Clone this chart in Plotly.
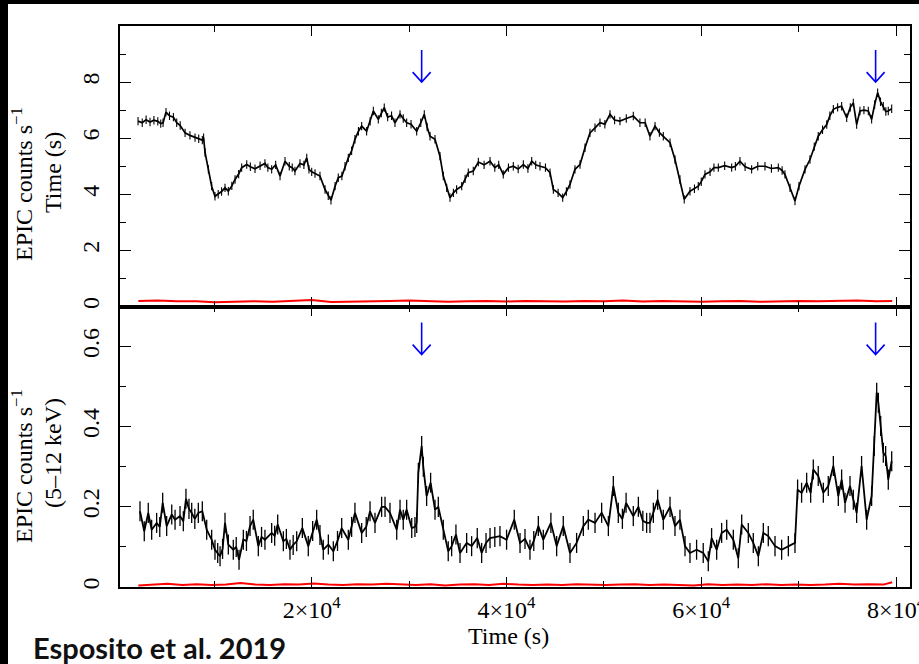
import plotly.graph_objects as go

# ---------------- data ----------------
t_top = [2170, 2600, 3000, 3400, 3800, 4200, 4500, 4740, 5040, 5400, 5800, 6140, 6500, 7000, 7500, 8020,
         8400, 8770, 8900, 9050, 9390, 9730, 10070, 10400, 10750, 11100, 11440, 11800, 12130, 12500, 12810,
         13330, 13700, 14180, 14700, 15200, 15500, 15890, 16300, 16750, 17260, 17700, 18000, 18280, 18800,
         19200, 19490, 19720, 20000, 20340, 20850, 21370, 21700, 21980, 22400, 22730, 23100, 23420, 23760,
         24100, 24440, 24800, 25130, 25640, 26000, 26330, 26840, 27150, 27450, 27800, 28200, 28550, 29070,
         29400, 29750, 30200, 30780, 31200, 31560, 31850, 32150, 32660, 33170, 33510, 33860, 34200, 34550,
         34880, 35400, 35750, 36080, 36590, 37110, 37700, 38310, 38800, 39200, 39670, 40200, 40700, 41200,
         41730, 42200, 42590, 43000, 43440, 44000, 44470, 44810, 45300, 45770, 46150, 46520, 47030, 47550,
         48060, 48570, 49090, 49600, 50100, 50630, 51100, 51650, 52300, 53020, 53700, 54240, 54730, 55250,
         55700, 56100, 56790, 57300, 57810, 58250, 58840, 59300, 59690, 60000, 60380, 60900, 61300, 61750,
         62400, 63120, 63500, 63970, 64500, 65170, 65800, 66540, 67200, 67910, 68300, 68590, 69110, 69620,
         70030, 70650, 71160, 71600, 72010, 72450, 72880, 73200, 73560, 74000, 74410, 74930, 75300, 75610,
         75950, 76290, 76700, 77150, 77490, 77800, 78110, 78400, 78690, 78950, 79200, 79550]
rate_top = [6.61, 6.55, 6.66, 6.58, 6.64, 6.60, 6.52, 6.55, 6.93, 6.80, 6.75, 6.55, 6.45, 6.19, 6.10, 6.02,
            5.98, 5.93, 6.02, 5.49, 4.89, 4.29, 3.93, 4.00, 4.10, 4.23, 4.11, 4.30, 4.53, 4.72, 4.95,
            5.06, 4.98, 4.91, 5.02, 5.10, 4.95, 4.89, 5.05, 4.65, 5.18, 5.00, 4.95, 4.83, 5.10,
            5.05, 5.30, 4.89, 4.80, 4.74, 4.65, 4.17, 3.95, 3.79, 4.29, 4.59, 4.65, 5.00, 5.30,
            5.55, 5.96, 6.25, 6.43, 6.25, 6.60, 6.97, 6.67, 6.90, 7.09, 6.75, 6.80, 6.55, 6.85,
            6.70, 6.55, 6.50, 6.25, 6.55, 6.85, 6.40, 6.07, 5.96, 5.36, 4.65, 4.23, 3.88, 4.05,
            4.17, 4.29, 4.55, 4.77, 4.83, 5.15, 5.05, 5.18, 4.95, 5.05, 4.71, 4.95, 5.00, 4.90,
            5.06, 4.92, 5.18, 5.05, 5.00, 4.95, 4.77, 4.17, 4.05, 3.88, 4.10, 4.35, 4.89, 5.06,
            5.66, 6.19, 6.37, 6.55, 6.50, 6.85, 6.65, 6.61, 6.70, 6.79, 6.55, 6.55, 6.07, 6.43,
            6.20, 6.07, 5.84, 5.24, 4.53, 3.82, 4.11, 4.20, 4.29, 4.45, 4.71, 4.80, 4.95, 4.95,
            5.02, 4.95, 5.00, 5.18, 4.98, 4.89, 5.00, 5.00, 4.92, 4.95, 4.85, 4.71, 4.23, 3.76,
            4.29, 4.89, 5.24, 5.70, 6.07, 6.30, 6.49, 6.80, 7.03, 7.10, 7.14, 6.73, 7.10, 7.26,
            6.49, 6.97, 7.00, 6.97, 6.67, 7.20, 7.62, 7.30, 7.14, 6.95, 6.97, 7.05]
err_top = 0.15

t_bkg_top = [2200, 4200, 6200, 8200, 10000, 12000, 14000, 16000, 18000, 20000, 22000, 24000, 26000,
             28000, 30000, 32000, 34000, 36000, 38000, 40000, 42000, 44000, 46000, 48000, 50000, 52000,
             54000, 56000, 58000, 60000, 62000, 64000, 66000, 68000, 70000, 72000, 74000, 76000, 78000, 79600]
rate_bkg_top = [0.20, 0.21, 0.19, 0.19, 0.15, 0.18, 0.19, 0.17, 0.19, 0.23, 0.16, 0.18, 0.19,
                0.20, 0.21, 0.19, 0.17, 0.19, 0.20, 0.18, 0.20, 0.19, 0.18, 0.20, 0.19, 0.21,
                0.18, 0.20, 0.18, 0.17, 0.19, 0.20, 0.17, 0.19, 0.20, 0.19, 0.20, 0.21, 0.19, 0.20]

t_bot = [2370, 2810, 3220, 3570, 4080, 4400, 4700, 5110, 5630, 5970, 6480, 6820, 7090, 7400, 7680, 8000,
         8360, 8770, 9220, 9730, 10070, 10350, 10590, 10850, 11100, 11440, 11950, 12250, 12540, 12980,
         13300, 13670, 14000, 14520, 14850, 15200, 15890, 16200, 16510, 17090, 17400, 17770, 18100, 18460,
         19040, 19650, 20100, 20510, 20850, 21190, 21710, 22220, 22650, 23080, 23760, 24100, 24440, 25130,
         25600, 25990, 26500, 27180, 27530, 28040, 28730, 29070, 29400, 29750, 30270, 30600, 30780, 30950,
         31290, 31460, 31800, 32210, 32660, 33000, 33510, 34020, 34370, 34810, 35230, 35910, 36420, 37000,
         37450, 37900, 38310, 38800, 39330, 40010, 40800, 41390, 41900, 42410, 42800, 43270, 43780, 44560,
         45150, 45830, 46520, 47200, 47890, 48400, 49090, 49770, 50460, 50970, 51480, 51900, 52280, 53020,
         53540, 54000, 54390, 54730, 55080, 55520, 56100, 56790, 57300, 57810, 58330, 58840, 59520, 60200,
         60720, 61060, 61580, 62090, 62610, 63290, 63800, 64150, 64830, 65340, 65860, 66370, 66880, 67570,
         68250, 68940, 69620, 69890, 70300, 70820, 71230, 71500, 72010, 72530, 73040, 73560, 74070, 74410,
         74760, 75270, 75610, 75950, 76460, 76980, 77490, 77760, 78010, 78180, 78420, 78690, 78930, 79200, 79550]
rate_bot = [0.189, 0.139, 0.185, 0.143, 0.160, 0.150, 0.210, 0.152, 0.181, 0.168, 0.177, 0.164, 0.220, 0.195,
            0.185, 0.170, 0.185, 0.189, 0.143, 0.118, 0.093, 0.085, 0.077, 0.095, 0.160, 0.106, 0.093, 0.100,
            0.068, 0.118, 0.115, 0.152, 0.168, 0.102, 0.125, 0.118, 0.135, 0.128, 0.156, 0.114, 0.120, 0.093,
            0.105, 0.114, 0.147, 0.102, 0.140, 0.168, 0.130, 0.093, 0.106, 0.089, 0.115, 0.147, 0.118, 0.150,
            0.185, 0.135, 0.150, 0.189, 0.160, 0.200, 0.200, 0.185, 0.143, 0.193, 0.168, 0.193, 0.147, 0.150,
            0.160, 0.285, 0.352, 0.300, 0.227, 0.260, 0.193, 0.200, 0.143, 0.089, 0.102, 0.131, 0.085, 0.110,
            0.102, 0.122, 0.085, 0.110, 0.122, 0.125, 0.127, 0.118, 0.168, 0.110, 0.120, 0.093, 0.115, 0.152,
            0.118, 0.160, 0.102, 0.152, 0.085, 0.110, 0.152, 0.168, 0.160, 0.185, 0.152, 0.252, 0.185, 0.170,
            0.210, 0.177, 0.200, 0.165, 0.160, 0.160, 0.185, 0.218, 0.168, 0.200, 0.152, 0.168, 0.102, 0.085,
            0.093, 0.085, 0.064, 0.122, 0.093, 0.135, 0.143, 0.118, 0.072, 0.156, 0.135, 0.110, 0.077, 0.135,
            0.127, 0.102, 0.093, 0.102, 0.110, 0.243, 0.235, 0.260, 0.235, 0.293, 0.277, 0.235, 0.252, 0.302,
            0.227, 0.268, 0.210, 0.252, 0.218, 0.185, 0.302, 0.168, 0.227, 0.352, 0.485, 0.460, 0.402, 0.335,
            0.327, 0.268, 0.314]
err_bot = 0.025

t_bkg_bot = [2200, 3700, 5200, 6700, 8200, 9700, 11200, 12700, 14200, 15700, 17200, 18700, 20200, 21700,
             23200, 24700, 26200, 27700, 29200, 30700, 32200, 33700, 35200, 36700, 38200, 39700, 41200,
             42700, 44200, 45700, 47200, 48700, 50200, 51700, 53200, 54700, 56200, 57700, 59200, 60700,
             62200, 63700, 65200, 66700, 68200, 69700, 71200, 72700, 74200, 75700, 77200, 78700, 79600]
rate_bkg_bot = [0.004, 0.006, 0.008, 0.005, 0.007, 0.005, 0.006, 0.010, 0.006, 0.005, 0.007, 0.006, 0.009, 0.006,
                0.005, 0.007, 0.006, 0.008, 0.006, 0.005, 0.007, 0.004, 0.006, 0.007, 0.005, 0.008, 0.006,
                0.005, 0.006, 0.005, 0.007, 0.006, 0.005, 0.006, 0.007, 0.005, 0.006, 0.005, 0.004, 0.007,
                0.005, 0.006, 0.005, 0.007, 0.005, 0.006, 0.005, 0.006, 0.008, 0.006, 0.007, 0.006, 0.012]

arrow_times = [31290, 77900]
arrow_tip_top = 8.0
arrow_tip_bot = 0.58

x_tickvals = [20000, 40000, 60000, 80000]
x_ticktext = ["2×10<sup>4</sup>", "4×10<sup>4</sup>", "6×10<sup>4</sup>", "8×10<sup>4</sup>"]

# ---------------- layout geometry ----------------
W, H = 919, 664
ML, MR, MT, MB = 120, 9, 26, 77
PW, PH = W - ML - MR, H - MT - MB


def px(xp):
    return (xp - ML) / PW


def py(yp):
    return (H - MB - yp) / PH


SERIF = "Liberation Serif, Times New Roman, serif"
fig = go.Figure()

fig.add_trace(go.Scatter(x=t_top, y=rate_top, mode="lines", xaxis="x2", yaxis="y2",
                         line=dict(color="black", width=1.7),
                         error_y=dict(type="constant", value=err_top, color="black", thickness=1.1, width=0),
                         showlegend=False))
fig.add_trace(go.Scatter(x=t_bkg_top, y=rate_bkg_top, mode="lines", xaxis="x2", yaxis="y2",
                         line=dict(color="#ff0000", width=2), showlegend=False))
fig.add_trace(go.Scatter(x=t_bot, y=rate_bot, mode="lines", xaxis="x", yaxis="y",
                         line=dict(color="black", width=1.8),
                         error_y=dict(type="constant", value=err_bot, color="black", thickness=1.3, width=0),
                         showlegend=False))
fig.add_trace(go.Scatter(x=t_bkg_bot, y=rate_bkg_bot, mode="lines", xaxis="x", yaxis="y",
                         line=dict(color="#ff0000", width=2), showlegend=False))

xr = [318, 81430]
axis_common = dict(showline=True, linecolor="black", linewidth=1.6, mirror="ticks", ticks="inside",
                   tickcolor="black", tickwidth=1.4, showgrid=False, zeroline=False, automargin=False,
                   tickfont=dict(family=SERIF, size=24, color="black"))

fig.update_layout(
    width=W, height=H,
    margin=dict(l=ML, r=MR, t=MT, b=MB, autoexpand=False),
    paper_bgcolor="white", plot_bgcolor="white",
    xaxis=dict(domain=[0, 1], anchor="y", range=xr, tickmode="array", tickvals=x_tickvals,
               ticktext=x_ticktext, ticklen=10, ticklabeloverflow="allow",
               minor=dict(tickmode="linear", tick0=0, dtick=10000, ticklen=6, ticks="inside",
                          tickcolor="black", tickwidth=1.4),
               ticklabelstandoff=0, **axis_common),
    xaxis2=dict(domain=[0, 1], anchor="y2", range=xr, matches="x", tickmode="array", tickvals=x_tickvals,
                showticklabels=False, ticklen=10,
                minor=dict(tickmode="linear", tick0=0, dtick=10000, ticklen=6, ticks="inside",
                           tickcolor="black", tickwidth=1.4),
                **axis_common),
    yaxis=dict(domain=[0, 0.5], anchor="x", range=[0, 0.7], tickmode="array",
               tickvals=[0, 0.2, 0.4, 0.6], ticktext=["0", "0.2", "0.4", "0.6"], ticklen=11, tickangle=-90,
               minor=dict(tickmode="array", tickvals=[0.1, 0.3, 0.5], ticklen=6, ticks="inside",
                          tickcolor="black", tickwidth=1.4),
               ticklabelstandoff=10, **axis_common),
    yaxis2=dict(domain=[0.5, 1], anchor="x2", range=[0, 10], tickmode="array",
                tickvals=[0, 2, 4, 6, 8], ticklen=11, tickangle=-90,
                minor=dict(tickmode="array", tickvals=[1, 3, 5, 7, 9], ticklen=6, ticks="inside",
                           tickcolor="black", tickwidth=1.4),
                ticklabelstandoff=10, **axis_common),
)

# blue arrows drawn as pixel-sized paths anchored at the data positions
arrow_path = "M0,0 L0,32 M-9,10 L0,0 L9,10"
shapes = []
for t in arrow_times:
    for xa, ya, tip in (("x2", "y2", arrow_tip_top), ("x", "y", arrow_tip_bot)):
        shapes.append(dict(type="path", xref=xa, yref=ya, xsizemode="pixel", ysizemode="pixel",
                           xanchor=t, yanchor=tip, path=arrow_path,
                           line=dict(color="#0000ff", width=1.6), layer="above"))

shapes += [
    dict(type="rect", xref="paper", yref="paper", x0=px(-2), x1=px(8), y0=py(H + 2), y1=py(-2),
         fillcolor="black", line=dict(width=0), layer="above"),
    dict(type="rect", xref="paper", yref="paper", x0=px(-2), x1=px(W + 2), y0=py(4), y1=py(-2),
         fillcolor="black", line=dict(width=0), layer="above"),
]

title_font = dict(family=SERIF, size=24, color="black")
ann = [
    dict(text="EPIC counts s<sup>−1</sup>", x=px(22), y=py(184), xref="paper", yref="paper",
         textangle=-90, showarrow=False, xanchor="center", yanchor="middle", font=title_font),
    dict(text="Time (s)", x=px(53), y=py(173), xref="paper", yref="paper",
         textangle=-90, showarrow=False, xanchor="center", yanchor="middle", font=title_font),
    dict(text="EPIC counts s<sup>−1</sup>", x=px(22), y=py(466), xref="paper", yref="paper",
         textangle=-90, showarrow=False, xanchor="center", yanchor="middle", font=title_font),
    dict(text="(5–12 keV)", x=px(53), y=py(453), xref="paper", yref="paper",
         textangle=-90, showarrow=False, xanchor="center", yanchor="middle", font=title_font),
    dict(text="Time (s)", x=px(508.5), y=py(636), xref="paper", yref="paper",
         showarrow=False, xanchor="center", yanchor="middle", font=title_font),
    dict(text="<b>Esposito et al. 2019</b>", x=px(31), y=py(647), xref="paper", yref="paper",
         showarrow=False, xanchor="left", yanchor="middle",
         font=dict(family="Lato, Noto Sans, sans-serif", size=29, color="#111111")),
]
fig.update_layout(annotations=ann, shapes=shapes)

fig.write_html("out.html", config={"displayModeBar": False},
               post_script="document.body.style.margin='0';document.body.style.overflow='hidden';"
                           "document.documentElement.style.overflow='hidden';")
